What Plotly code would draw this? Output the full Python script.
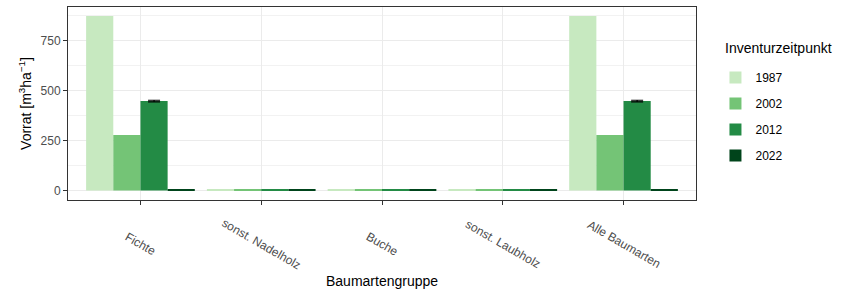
import plotly.graph_objects as go

categories = ["Fichte", "sonst. Nadelholz", "Buche", "sonst. Laubholz", "Alle Baumarten"]
years = ["1987", "2002", "2012", "2022"]
values = {
    "1987": [872, 4, 4, 4, 872],
    "2002": [277, 5, 5, 5, 277],
    "2012": [447, 5, 5, 5, 447],
    "2022": [5, 5, 5, 5, 5],
}
# "NaN" entries = no error bar drawn
errors = {
    "2012": [4, "NaN", "NaN", "NaN", 4],
}
colors = {"1987": "#C7E9C0", "2002": "#74C476", "2012": "#238B45", "2022": "#00441B"}

fig = go.Figure()
for i, y in enumerate(years):
    tr = dict(
        x=list(range(len(categories))), y=values[y], name=y,
        marker=dict(color=colors[y], line=dict(width=0)),
        legendgroup=y,
    )
    if y in errors:
        tr["error_y"] = dict(type="data", array=errors[y], visible=True, color="black", thickness=1.2, width=6)
    fig.add_trace(go.Bar(**tr))

L, R, T, B = 68, 153, 7, 93
W, H = 849, 293
PH = H - T - B
PW = W - L - R
fig.update_layout(
    width=W, height=H,
    margin=dict(l=L, r=R, t=T, b=B, autoexpand=False),
    paper_bgcolor="white", plot_bgcolor="white",
    barmode="group", bargap=0.1, bargroupgap=0,
    font=dict(family="Liberation Sans, Arial, sans-serif", color="#4D4D4D"),
    legend=dict(
        font=dict(size=12, color="black"),
        x=(723 - L) / PW - 0.012, xanchor="left", y=(H - B - 63) / PH, yanchor="top",
        tracegroupgap=7, itemwidth=30,
    ),
    showlegend=True,
)
fig.update_xaxes(
    range=[-0.6, 4.6], tickmode="array", tickvals=list(range(5)), showticklabels=False,
    showgrid=True, gridcolor="#EBEBEB", gridwidth=1,
    showline=True, linecolor="#333333", linewidth=1, mirror=True,
    ticks="outside", ticklen=4, tickcolor="#333333", zeroline=False,
    automargin=False,
)
fig.update_yaxes(
    range=[-47.5, 917], tickvals=[0, 250, 500, 750],
    showgrid=True, gridcolor="#EBEBEB", gridwidth=1,
    minor=dict(tickvals=[125, 375, 625, 875], showgrid=True, gridcolor="#F2F2F2", gridwidth=0.6),
    showline=True, linecolor="#333333", linewidth=1, mirror=True,
    ticks="outside", ticklen=4, tickcolor="#333333", zeroline=False,
    tickfont=dict(size=12, color="#4D4D4D"),
    automargin=False,
    title=dict(text="Vorrat [m<sup>3</sup>ha<sup>\u22121</sup>]", font=dict(size=14, color="black"), standoff=5),
)
# rotated category labels
for i, c in enumerate(categories):
    fig.add_annotation(
        x=i, xref="x", y=0, yref="paper", yshift=-44,
        text=c, showarrow=False, textangle=30,
        font=dict(size=12, color="#4D4D4D"), xanchor="center", yanchor="middle",
    )
# x-axis title
fig.add_annotation(
    x=0.5, xref="paper", y=0, yref="paper", yshift=-81,
    text="Baumartengruppe", showarrow=False,
    font=dict(size=14, color="black"), xanchor="center", yanchor="middle",
)
# legend title
fig.add_annotation(
    x=(723 - L) / PW, xref="paper", y=(H - B - 48) / PH, yref="paper",
    text="Inventurzeitpunkt", showarrow=False,
    font=dict(size=14, color="black"), xanchor="left", yanchor="middle",
)
fig.write_html("out.html", config={"displayModeBar": False},
               post_script="document.body.style.margin='0';")
